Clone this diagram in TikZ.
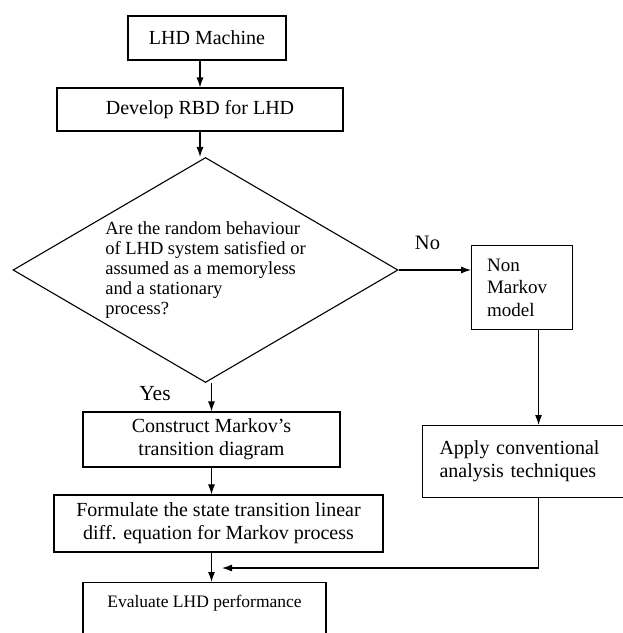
\documentclass[tikz,border=0pt]{standalone}
\usepackage{fontspec}
\setmainfont{Liberation Serif}
\usetikzlibrary{shapes.geometric,arrows.meta}
\tikzset{
	flowbox/.style={draw, line width=1.1pt, inner sep=0pt, align=center, font=\fontsize{20}{23}\selectfont},
	flowarrow/.style={line width=1.1pt, -{Latex[length=10pt,width=7pt]}},
	flowlabel/.style={inner sep=0pt}
}

\begin{document}
\begin{tikzpicture}[x=1pt,y=-1pt]
			%%%%% START %%%%%
			\useasboundingbox (0,0) rectangle (623,633);
			\clip (0,0) rectangle (623,633);
			
			\node[flowbox, minimum width=158pt, minimum height=44pt] (lhd) at (207,38) {LHD Machine};
			\node[flowbox, minimum width=286pt, minimum height=43pt] (rbd) at (200,109.5) {Develop RBD for LHD};
			
			\node[draw, diamond, line width=1.1pt, inner sep=0pt, aspect=1.7, minimum width=385pt, minimum height=225pt, align=left, font=\fontsize{18.5}{20}\selectfont] (markovq) at (205.5,270) {Are the random behaviour\\of LHD system satisfied or\\assumed as a memoryless\\and a stationary\\process?};
			
			\node[flowbox, anchor=north west, minimum width=101pt, minimum height=84pt, text width=70pt, align=left, font=\fontsize{19}{22.5}\selectfont] (nonmarkov) at (471,245) {Non\\Markov\\model};
			\node[flowbox, anchor=north west, minimum width=220pt, minimum height=72pt, text width=186pt, align=left] (apply) at (422,425) {Apply conventional\\analysis techniques};
			
			\node[flowbox, minimum width=257pt, minimum height=55pt] (construct) at (211.5,439.5) {Construct Markov's\\transition diagram};
			\node[flowbox, minimum width=329pt, minimum height=57pt] (formulate) at (218.5,523.5) {Formulate the state transition linear\\diff. equation for Markov process};
			\node[flowbox, anchor=north, minimum width=243pt, text height=25pt, text depth=50pt, font=\fontsize{17.5}{20}\selectfont] (evaluate) at (204.5,582) {Evaluate LHD performance};
			
			\node[flowlabel, font=\fontsize{20.5}{22}\selectfont] (no) at (427.5,243) {No};
			\node[flowlabel, font=\fontsize{21.5}{24}\selectfont] (yes) at (155,394) {Yes};
			
			\draw[flowarrow] (lhd.south -| rbd.north) -- (rbd.north);
			\draw[flowarrow] (rbd.south) -- (rbd.south |- markovq.north);
			\draw[flowarrow] (markovq.east) -- (markovq.east -| nonmarkov.west);
			\draw[flowarrow] (markovq.south -| construct.north) -- (construct.north);
			\draw[flowarrow] (construct.south) -- (construct.south |- formulate.north);
			\draw[flowarrow] (construct.south |- formulate.south) -- (construct.south |- evaluate.north);
			
			\draw[flowarrow] ([xshift=16.5pt]nonmarkov.south) -- ([xshift=16.5pt]nonmarkov.south |- apply.north);
			\coordinate (merge) at (222,568);
			\draw[flowarrow] ([xshift=16.5pt]nonmarkov.south |- apply.south) |- (merge);
			
			%%%%% END %%%%%
\end{tikzpicture}
\end{document}
